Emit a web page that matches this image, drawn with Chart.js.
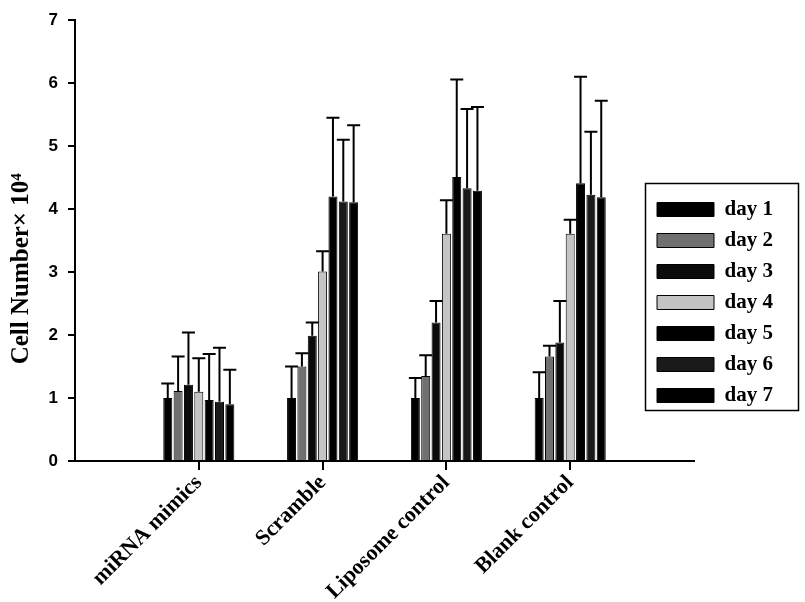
<!DOCTYPE html>
<html>
<head>
<meta charset="utf-8">
<title>Cell number</title>
<script src="https://cdn.jsdelivr.net/npm/chart.js@4.4.0/dist/chart.umd.min.js"></script>
<style>
  html, body { margin: 0; padding: 0; background: #fff; }
</style>
</head>
<body>
<canvas id="cellChart" width="805" height="602"></canvas>
<script>
// groups on the x axis
const groups = ['miRNA mimics', 'Scramble', 'Liposome control', 'Blank control'];
const dayLabels = ['day 1', 'day 2', 'day 3', 'day 4', 'day 5', 'day 6', 'day 7'];
const yTicks = [0, 1, 2, 3, 4, 5, 6, 7];

// mean cell number (x10^4) per day, one value per group
const day1 = [1.00, 1.00, 1.00, 1.00];
const day2 = [1.11, 1.50, 1.35, 1.66];
const day3 = [1.21, 1.99, 2.20, 1.88];
const day4 = [1.10, 3.01, 3.61, 3.61];
const day5 = [0.97, 4.20, 4.51, 4.41];
const day6 = [0.94, 4.12, 4.33, 4.23];
const day7 = [0.90, 4.11, 4.29, 4.19];

// upper error bar length per day
const err1 = [0.23, 0.50, 0.32, 0.41];
const err2 = [0.55, 0.21, 0.33, 0.17];
const err3 = [0.83, 0.21, 0.34, 0.66];
const err4 = [0.53, 0.32, 0.53, 0.22];
const err5 = [0.73, 1.25, 1.55, 1.69];
const err6 = [0.86, 0.98, 1.26, 1.00];
const err7 = [0.55, 1.22, 1.33, 1.53];

const means = [day1, day2, day3, day4, day5, day6, day7];
const errors = [err1, err2, err3, err4, err5, err6, err7];
const fills = ['#000000', '#707070', '#0b0b0b', '#c4c4c4', '#000000', '#1a1a1a', '#000000'];

// empty slot before and after the groups, like the original axis
const pad = arr => [null, ...arr, null];
const labels = ['', ...groups, ''];

const datasets = dayLabels.map((name, i) => ({
  label: name,
  data: pad(means[i]),
  errors: pad(errors[i]),
  backgroundColor: fills[i],
  borderColor: '#000',
  borderWidth: 1,
  categoryPercentage: 0.585,
  barPercentage: 0.87
}));

const errorBars = {
  id: 'errorBars',
  afterDatasetsDraw(chart) {
    const ctx = chart.ctx;
    const yScale = chart.scales.y;
    ctx.save();
    ctx.strokeStyle = '#000';
    ctx.lineWidth = 2;
    chart.data.datasets.forEach((ds, i) => {
      const meta = chart.getDatasetMeta(i);
      meta.data.forEach((bar, j) => {
        const v = ds.data[j];
        if (v == null) return;
        const top = yScale.getPixelForValue(v + ds.errors[j]);
        ctx.beginPath();
        ctx.moveTo(bar.x, bar.y);
        ctx.lineTo(bar.x, top);
        ctx.moveTo(bar.x - 6.5, top);
        ctx.lineTo(bar.x + 6.5, top);
        ctx.stroke();
      });
    });
    ctx.restore();
  }
};

// put the legend in a framed box over the right side of the plot
const legendBox = {
  id: 'legendBox',
  afterLayout(chart) {
    const lg = chart.legend;
    lg.left = 647;
    lg.right = 800;
    lg.top = 189;
    lg.bottom = 460;
    lg.width = lg.right - lg.left;
    lg.height = lg.bottom - lg.top;
  },
  afterDraw(chart) {
    const ctx = chart.ctx;
    ctx.save();
    ctx.strokeStyle = '#000';
    ctx.lineWidth = 1.5;
    ctx.strokeRect(645.5, 183.5, 153, 227);
    ctx.restore();
  }
};

new Chart(document.getElementById('cellChart'), {
  type: 'bar',
  data: { labels: labels, datasets: datasets },
  plugins: [errorBars, legendBox],
  options: {
    responsive: false,
    animation: false,
    layout: { padding: { top: 14, right: 111, left: 0, bottom: 0 } },
    plugins: {
      tooltip: { enabled: false },
      legend: {
        position: 'chartArea',
        align: 'start',
        labels: {
          boxWidth: 57,
          boxHeight: 14,
          padding: 10,
          color: '#000',
          font: { family: 'Liberation Serif', size: 21, weight: 'bold' }
        }
      }
    },
    scales: {
      x: {
        offset: false,
        afterFit: scale => { scale.height = 141; },
        grid: {
          offset: false,
          drawOnChartArea: false,
          tickLength: 9,
          lineWidth: 2,
          color: c => (c.index === 0 || c.index === labels.length - 1) ? 'rgba(0,0,0,0)' : '#000'
        },
        border: { display: true, color: '#000', width: 2 },
        ticks: {
          autoSkip: false,
          minRotation: 45,
          maxRotation: 45,
          padding: 0,
          color: '#000',
          font: { family: 'Liberation Serif', size: 22, weight: 'bold' }
        }
      },
      y: {
        min: yTicks[0],
        max: yTicks[yTicks.length - 1],
        afterFit: scale => { scale.width = 75; },
        afterBuildTicks: scale => { scale.ticks = yTicks.map(v => ({ value: v })); },
        grid: { drawOnChartArea: false, tickLength: 7, lineWidth: 2, color: '#000' },
        border: { display: true, color: '#000', width: 2 },
        ticks: {
          padding: 10,
          color: '#000',
          font: { family: 'Liberation Sans', size: 17, weight: 'bold' }
        },
        title: {
          display: true,
          text: 'Cell Number\u00d7 10\u2074         ',
          color: '#000',
          padding: { top: 7, bottom: 0 },
          font: { family: 'Liberation Serif', size: 25, weight: 'bold' }
        }
      }
    }
  }
});
</script>
</body>
</html>
